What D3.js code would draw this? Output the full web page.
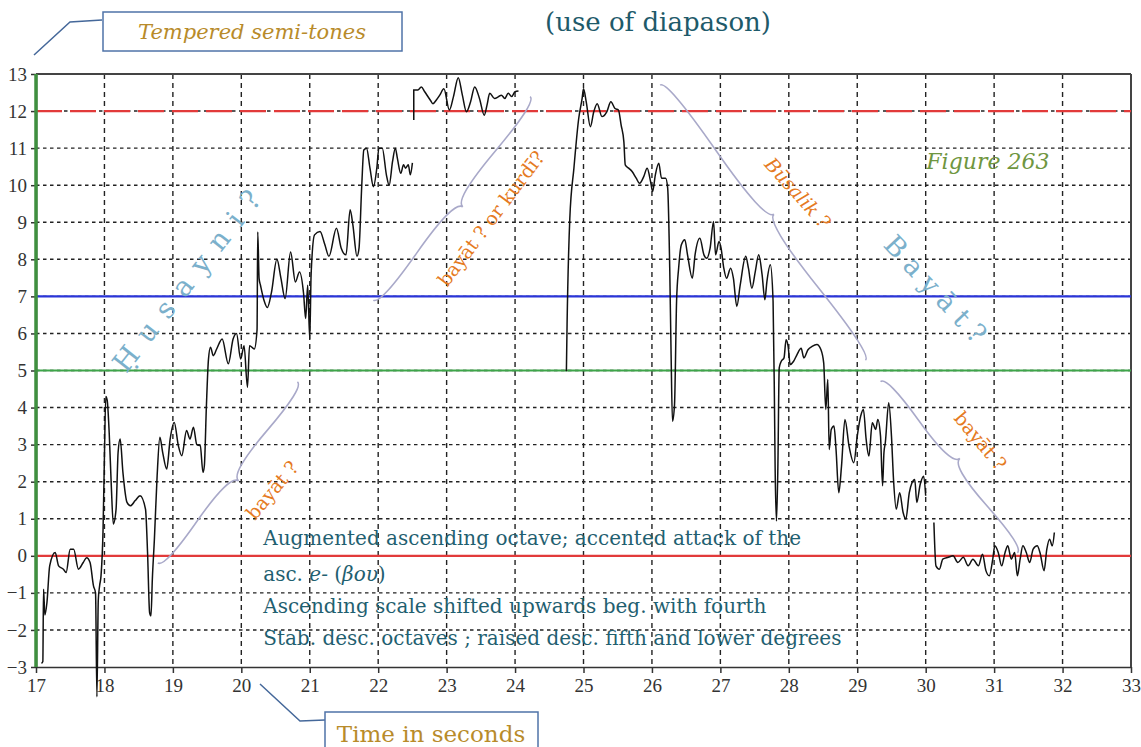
<!doctype html>
<html>
<head>
<style>
  body { margin:0; background:#fff; }
  svg { display:block; font-family:"DejaVu Serif", serif; }
  .grid line { stroke:#222; stroke-width:1.4; }
  .axis path, .axis line { stroke:#333; stroke-width:1.5; }
  .axis text { font-size:19px; fill:#333; font-family:"Liberation Serif", serif; }
  .brace { fill:none; stroke:#a9a9c9; stroke-width:1.6; }
</style>
<script src="https://cdn.jsdelivr.net/npm/d3@7"></script>
</head>
<body>
<script>
// axis ticks
var xTicks = [17,18,19,20,21,22,23,24,25,26,27,28,29,30,31,32,33];
var yTicks = [-3,-2,-1,0,1,2,3,4,5,6,7,8,9,10,11,12,13];

// pitch curve, [seconds, tempered semitones], one array per voiced stretch
var seg1 = [[17.08,-2.9],[17.10,-2.85],[17.11,-0.9],[17.13,-1.6],[17.16,-1.26],[17.20,-0.27],[17.28,0.09],
  [17.33,-0.27],[17.40,-0.36],[17.44,-0.45],[17.50,0.18],[17.55,0.18],[17.62,-0.36],[17.69,-0.18],
  [17.74,-0.05],[17.79,-0.18],[17.84,-0.81],[17.87,-1.0],[17.89,-3.8],[17.91,-1.2],[17.93,-0.8],
  [17.95,-0.54],[17.98,0.72],[18.0,2.7],[18.02,4.3],[18.04,4.2],[18.07,3.3],[18.10,1.9],[18.13,0.86],
  [18.17,1.26],[18.20,2.8],[18.23,3.15],[18.27,2.25],[18.33,1.44],[18.38,1.35],[18.45,1.49],
  [18.52,1.62],[18.60,1.26],[18.63,0.09],[18.66,-1.53],[18.68,-1.62],[18.70,-0.63],[18.73,0.45],
  [18.77,2.16],[18.81,3.2],[18.85,2.8],[18.91,2.34],[18.96,3.15],[19.02,3.6],[19.08,2.97],
  [19.13,2.7],[19.20,3.38],[19.25,3.15],[19.30,3.47],[19.35,3.0],[19.40,2.97],[19.44,2.25],
  [19.46,2.43],[19.49,4.05],[19.52,5.3],[19.55,5.63],[19.59,5.4],[19.64,5.58],[19.72,5.85],
  [19.81,5.18],[19.88,5.85],[19.93,6.0],[19.99,5.31],[20.04,5.67],[20.09,4.55],[20.12,5.67],
  [20.19,5.58],[20.23,6.1],[20.24,8.74],[20.26,7.48],[20.28,7.3],[20.33,6.9],[20.38,6.7],
  [20.44,7.1],[20.52,8.0],[20.58,7.48],[20.64,6.94],[20.72,8.2],[20.79,7.39],[20.85,7.66],
  [20.91,7.07],[20.94,6.4],[20.97,7.3],[21.0,5.85],[21.02,7.6],[21.07,8.66],[21.15,8.75],
  [21.22,8.4],[21.28,8.08],[21.39,8.84],[21.46,8.3],[21.53,8.12],[21.59,9.34],[21.63,8.93],
  [21.69,8.08],[21.72,8.3],[21.76,10.0],[21.79,10.95],[21.83,11.0],[21.88,10.46],[21.93,9.96],
  [21.98,10.46],[22.01,11.0],[22.06,11.0],[22.12,10.28],[22.16,10.0],[22.21,10.64],[22.25,11.0],
  [22.28,10.73],[22.33,10.32],[22.37,10.55],[22.40,10.46],[22.44,10.55],[22.47,10.28],[22.50,10.6]];

var seg2 = [[22.52,11.76],[22.52,12.57],[22.58,12.57],[22.63,12.65],[22.68,12.52],[22.76,12.3],
  [22.80,12.2],[22.85,12.3],[22.90,12.43],[22.96,12.6],[23.04,12.03],[23.10,12.39],[23.17,12.9],
  [23.23,12.43],[23.29,11.98],[23.35,12.25],[23.41,12.65],[23.48,12.34],[23.55,11.89],[23.59,12.16],
  [23.63,12.48],[23.70,12.34],[23.76,12.39],[23.80,12.43],[23.85,12.34],[23.90,12.48],[23.95,12.39],
  [24.0,12.52],[24.05,12.54]];

var seg3 = [[24.75,4.98],[24.76,6.24],[24.80,9.1],[24.86,10.46],[24.93,11.8],[24.98,12.34],[25.0,12.6],
  [25.04,12.25],[25.10,11.58],[25.15,11.98],[25.20,12.2],[25.27,11.85],[25.34,11.98],[25.40,12.25],
  [25.46,12.07],[25.51,12.03],[25.55,11.62],[25.59,11.17],[25.61,10.55],[25.66,10.46],[25.71,10.37],
  [25.77,10.19],[25.82,10.05],[25.88,10.23],[25.93,10.46],[25.98,10.1],[26.01,9.83],[26.05,10.28],
  [26.10,10.59],[26.14,10.19],[26.20,10.19],[26.23,9.92],[26.26,7.76],[26.28,5.43],[26.30,3.63],
  [26.33,4.08],[26.36,6.87],[26.39,7.76],[26.43,8.39],[26.48,8.53],[26.52,8.12],[26.59,7.49],
  [26.63,8.12],[26.70,8.57],[26.76,8.12],[26.80,8.03],[26.85,8.3],[26.90,9.02],[26.93,8.12],
  [26.98,8.48],[27.01,8.3],[27.05,7.76],[27.09,7.49],[27.15,7.76],[27.19,7.49],[27.24,6.73],
  [27.29,7.31],[27.37,8.08],[27.41,7.76],[27.46,7.22],[27.51,7.67],[27.56,8.12],[27.61,7.58],
  [27.65,6.91],[27.68,7.4],[27.73,7.85],[27.77,6.87],[27.79,4.17],[27.80,2.38],[27.82,0.94],
  [27.84,2.38],[27.86,5.07],[27.89,5.25],[27.93,5.34],[27.96,5.83],[27.99,5.65],[28.02,5.16],
  [28.07,5.25],[28.12,5.43],[28.18,5.6],[28.22,5.34],[28.28,5.56],[28.34,5.65],[28.41,5.7],
  [28.47,5.56],[28.51,5.2],[28.54,3.95],[28.57,4.76],[28.59,2.87],[28.62,3.41],[28.66,3.5],
  [28.69,2.87],[28.73,1.7],[28.77,2.42],[28.82,3.68],[28.88,2.96],[28.95,2.51],[29.0,3.23],
  [29.05,3.77],[29.09,3.95],[29.13,3.14],[29.17,2.69],[29.22,3.59],[29.27,3.41],[29.30,3.68],
  [29.34,3.23],[29.37,1.89],[29.39,2.78],[29.41,3.05],[29.46,4.13],[29.50,3.23],[29.53,2.06],
  [29.57,1.26],[29.62,1.7],[29.67,1.17],[29.71,0.99],[29.76,1.7],[29.80,1.97],[29.84,2.06],
  [29.87,1.44],[29.92,1.93],[29.97,2.15],[30.0,1.62]];

var seg4 = [[30.12,0.9],[30.15,-0.27],[30.20,-0.36],[30.25,-0.09],[30.33,-0.04],[30.40,0.0],
  [30.47,-0.18],[30.55,-0.04],[30.62,-0.27],[30.69,-0.09],[30.77,-0.27],[30.83,0.04],[30.88,-0.4],
  [30.93,-0.54],[30.98,-0.09],[31.01,0.27],[31.06,0.09],[31.11,-0.27],[31.16,0.09],[31.20,0.27],
  [31.25,-0.09],[31.30,0.09],[31.34,-0.54],[31.38,-0.09],[31.42,0.27],[31.47,0.09],[31.52,-0.18],
  [31.57,0.18],[31.63,0.27],[31.67,0.09],[31.73,-0.4],[31.77,0.18],[31.81,0.45],[31.85,0.27],[31.88,0.63]];

// reference pitches
var refLevels = [0, 5, 7, 12];
var refColors = ["#e23a3a", "#3ea54a", "#2a35d8", "#e23a3a"];

// braces: [t1, v1, t2, v2, width]
var braces = [[18.78,-0.19,20.82,4.69,14],[21.93,6.9,24.22,12.39,14],
              [26.12,12.7,29.12,5.28,-14],[29.34,4.7,31.34,0.08,-14]];

var notes = ["Augmented ascending octave; accented attack of the",
             "asc. ",
             "Ascending scale shifted upwards beg. with fourth",
             "Stab. desc. octaves ; raised desc. fifth and lower degrees"];
var noteLevels = [0.29, -0.68, -1.54, -2.41];

var W = 1141, H = 747;
var svg = d3.select("body").append("svg").attr("width", W).attr("height", H);

var x = d3.scaleLinear().domain([17,33]).range([36,1131]);
var y = d3.scaleLinear().domain([-3,13]).range([667,74]);

// grid
svg.append("g").attr("class","grid").selectAll("line")
  .data(xTicks.slice(1,-1)).enter().append("line")
  .attr("x1", d => x(d)).attr("x2", d => x(d))
  .attr("y1", y(13)).attr("y2", y(-3))
  .style("stroke-dasharray","5,4");
svg.append("g").attr("class","grid").selectAll("line")
  .data(yTicks.slice(1,-1)).enter().append("line")
  .attr("x1", x(17)).attr("x2", x(33))
  .attr("y1", d => y(d)).attr("y2", d => y(d))
  .style("stroke-dasharray","3.5,3.5");

// axes
svg.append("g").attr("class","axis")
  .attr("transform","translate(0," + y(-3) + ")")
  .call(d3.axisBottom(x).tickValues(xTicks).tickSize(6).tickSizeOuter(0).tickPadding(6));
svg.append("g").attr("class","axis")
  .attr("transform","translate(" + x(17) + ",0)")
  .call(d3.axisLeft(y).tickValues(yTicks).tickSize(5).tickSizeOuter(0).tickPadding(4)
        .tickFormat(d3.format("d")));

// frame top and right
svg.append("line").attr("x1", x(17)).attr("x2", x(33)).attr("y1", y(13)).attr("y2", y(13))
  .style("stroke","#444").style("stroke-width",2);
svg.append("line").attr("x1", x(33)).attr("x2", x(33)).attr("y1", y(13)).attr("y2", y(-3))
  .style("stroke","#444").style("stroke-width",2);

// reference lines
svg.append("g").selectAll("line").data(refLevels).enter().append("line")
  .attr("x1", x(17)).attr("x2", x(33))
  .attr("y1", d => y(d)).attr("y2", d => y(d))
  .style("stroke", (d,i) => refColors[i])
  .style("stroke-width", 2.2)
  .style("stroke-dasharray", d => d == 12 ? "26,8" : null);

// green left axis
svg.append("line").attr("x1", x(17)).attr("x2", x(17)).attr("y1", y(13)).attr("y2", y(-3))
  .style("stroke","#3f8f3f").style("stroke-width",3.5);

// pitch curve
var line = d3.line().x(d => x(d[0])).y(d => y(d[1])).curve(d3.curveMonotoneX);
svg.append("g").selectAll("path").data([seg1, seg2, seg3, seg4]).enter().append("path")
  .attr("d", line)
  .style("fill","none").style("stroke","#111").style("stroke-width",1.5);

// braces
function brace(x1,y1,x2,y2,w,q) {
  var len = Math.sqrt((x1-x2)*(x1-x2) + (y1-y2)*(y1-y2));
  var dx = (x1-x2)/len, dy = (y1-y2)/len;
  var qx1 = x1 + q*w*dy, qy1 = y1 - q*w*dx;
  var qx2 = (x1 - .25*len*dx) + (1-q)*w*dy, qy2 = (y1 - .25*len*dy) - (1-q)*w*dx;
  var tx1 = (x1 - .5*len*dx) + w*dy, ty1 = (y1 - .5*len*dy) - w*dx;
  var qx3 = x2 + q*w*dy, qy3 = y2 - q*w*dx;
  var qx4 = (x1 - .75*len*dx) + (1-q)*w*dy, qy4 = (y1 - .75*len*dy) - (1-q)*w*dx;
  return "M" + x1 + "," + y1 + " Q" + qx1 + "," + qy1 + " " + qx2 + "," + qy2 + " T" + tx1 + "," + ty1 +
         " M" + x2 + "," + y2 + " Q" + qx3 + "," + qy3 + " " + qx4 + "," + qy4 + " T" + tx1 + "," + ty1;
}
svg.append("g").selectAll("path").data(braces).enter().append("path")
  .attr("class","brace")
  .attr("d", d => brace(x(d[0]), y(d[1]), x(d[2]), y(d[3]), d[4], 0.6));

// rotated labels [text, t, v, angle, colour, size, spacing, italic]
var labels = [["Ḥ u s a y n i ?", 19.21, 7.44, -52, "#7bb0cb", 28, 2, false],
              ["B a y ā t ?", 30.14, 7.2, 47, "#7bb0cb", 27, 0, false],
              ["bayāt ?", 20.45, 1.77, -50, "#e57a22", 19, 0, false],
              ["bayāt ? or kurdī?", 23.65, 9.1, -53, "#e57a22", 19, 0, false],
              ["Būsalik ?", 28.13, 9.79, 48, "#e57a22", 19, 0, true],
              ["bayāt ?", 30.8, 3.1, 50, "#e57a22", 19, 0, false]];
svg.append("g").selectAll("text").data(labels).enter().append("text")
  .attr("transform", d => "translate(" + x(d[1]) + "," + y(d[2]) + ") rotate(" + d[3] + ")")
  .attr("text-anchor","middle").attr("dy","0.35em")
  .style("fill", d => d[4]).style("font-size", d => d[5] + "px")
  .style("letter-spacing", d => d[6] + "px")
  .style("font-style", d => d[7] ? "italic" : "normal")
  .text(d => d[0]);

svg.append("text").attr("x", x(30.01)).attr("y", y(10.45))
  .style("fill","#6f9640").style("font-size","22px").style("font-style","italic")
  .text("Figure 263");

// comment block
var nt = svg.append("g").selectAll("text").data(notes).enter().append("text")
  .attr("x", x(20.32)).attr("y", (d,i) => y(noteLevels[i]))
  .style("fill","#1f6070").style("font-size","20px")
  .text(d => d);
nt.filter((d,i) => i == 1).each(function() {
  var t = d3.select(this);
  t.append("tspan").style("font-style","italic").text("e-");
  t.append("tspan").text(" (");
  t.append("tspan").style("font-style","italic").text("βου");
  t.append("tspan").text(")");
});

// title
svg.append("text").attr("x", 658).attr("y", 31).attr("text-anchor","middle")
  .style("fill","#1e5a6a").style("font-size","26px").text("(use of diapason)");

// y caption box
svg.append("path").attr("d","M102,20 L70,22 L34,55")
  .style("fill","none").style("stroke","#45689a").style("stroke-width",1.5);
svg.append("rect").attr("x",103).attr("y",12).attr("width",299).attr("height",39)
  .style("fill","#fff").style("stroke","#4f73a8").style("stroke-width",1.5);
svg.append("text").attr("x",252).attr("y",39).attr("text-anchor","middle")
  .style("fill","#b88b2a").style("font-size","21px").style("font-style","italic")
  .text("Tempered semi-tones");

// x caption box
svg.append("path").attr("d","M260,684 L300,721 L325,720")
  .style("fill","none").style("stroke","#45689a").style("stroke-width",1.5);
svg.append("rect").attr("x",325).attr("y",712).attr("width",213).attr("height",45)
  .style("fill","#fff").style("stroke","#4f73a8").style("stroke-width",1.5);
svg.append("text").attr("x",431).attr("y",742).attr("text-anchor","middle")
  .style("fill","#b88b2a").style("font-size","23px")
  .text("Time in seconds");
</script>
</body>
</html>
